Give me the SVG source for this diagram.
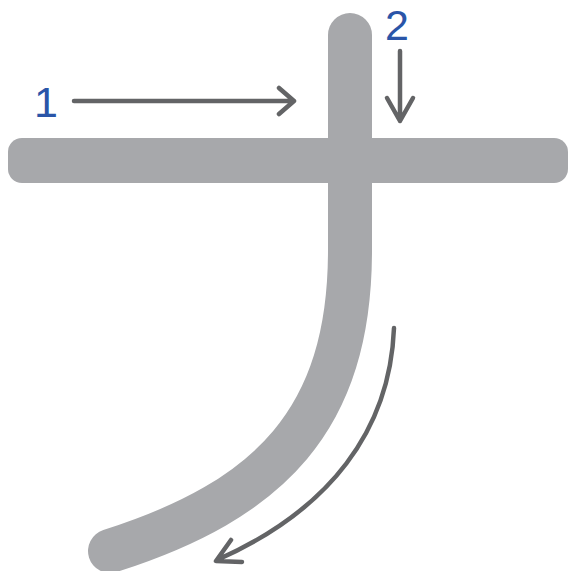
<svg xmlns="http://www.w3.org/2000/svg" width="571" height="571" viewBox="0 0 571 571">
<style>
.stroke{fill:none;stroke:#a7a8ab;stroke-width:44;stroke-linecap:round;stroke-linejoin:round}
.arrow{fill:none;stroke:#636466;stroke-width:4.5;stroke-linecap:round;stroke-linejoin:round}
.num{font-family:"Liberation Sans",Arial,sans-serif;font-size:43px;fill:#2a55a8;text-anchor:middle}
</style>
<rect width="571" height="571" fill="#ffffff"/>
<g id="char">
<rect x="8" y="138" width="560" height="45" rx="14" fill="#a7a8ab"/>
<path class="stroke" d="M350,35 L350,250 C350,420 270,500 110,551"/>
</g>
<g id="connectors">
<path class="arrow" d="M74,101 L294,101 M279,88 L294,101 L279,114"/>
<path class="arrow" d="M400,51 L400,121 M387,98 L400,121 L413,98"/>
<path class="arrow" d="M394,328 C390,430 330,510 217,560 M231,540 L216,561 L242,562"/>
</g>
<g id="labels">
<text class="num" x="46" y="117">1</text>
<text class="num" x="397" y="40">2</text>
</g>
</svg>
